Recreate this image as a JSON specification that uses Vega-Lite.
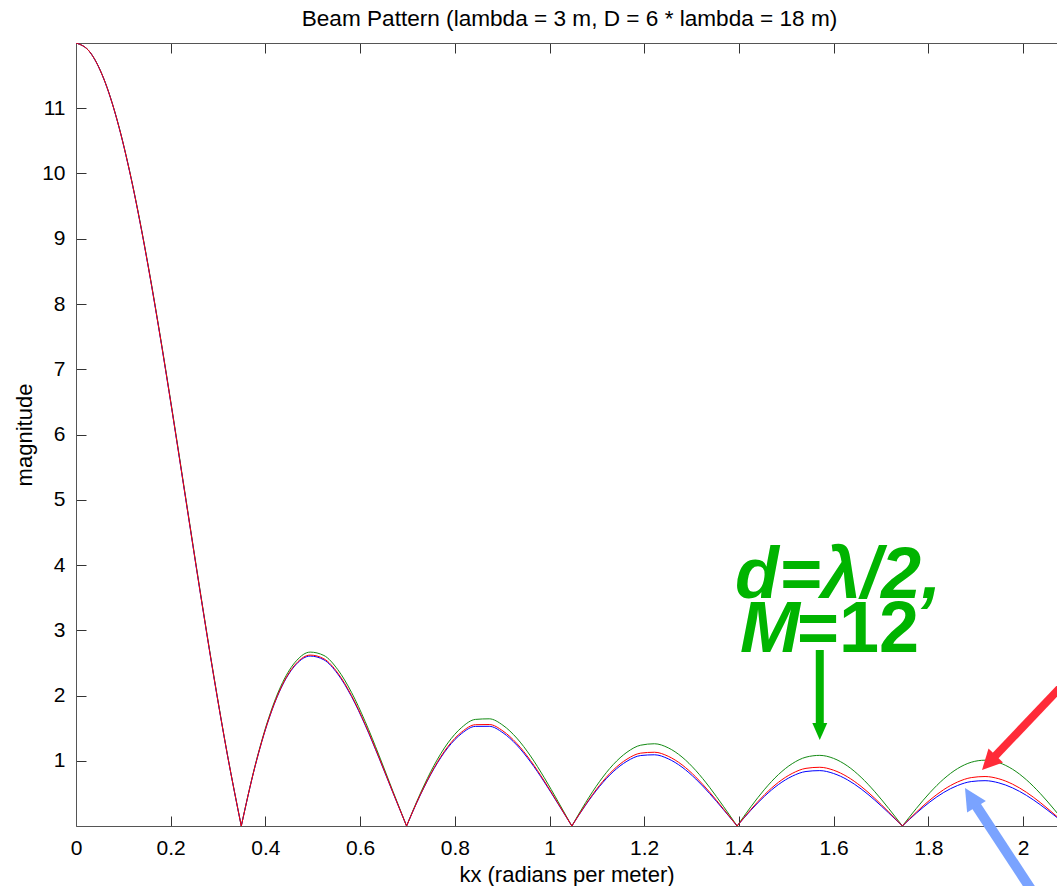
{
  "$schema": "https://vega.github.io/schema/vega-lite/v6.json",
  "width": 981,
  "height": 783,
  "autosize": {"type": "none"},
  "padding": {"left": 76, "top": 43, "right": 0, "bottom": 60},
  "background": "white",
  "config": {"view": {"stroke": null}, "font": "Liberation Sans", "axis": {"grid": false}},
  "title": {"text": "Beam Pattern (lambda = 3 m, D = 6 * lambda = 18 m)", "font": "Liberation Sans", "fontSize": 22.6, "fontWeight": "normal", "color": "#000", "anchor": "middle", "frame": "group", "baseline": "alphabetic", "offset": -6, "dx": 3},
  "resolve": {"axis": {"x": "independent", "y": "independent"}},
  "datasets": {
    "beam": [
      {"kx":0,"lobe":0,"g":12,"r":12,"b":12},
      {"kx":0.02909,"lobe":0,"g":11.8643,"r":11.8637,"b":11.8634},
      {"kx":0.05818,"lobe":0,"g":11.4628,"r":11.4601,"b":11.4592},
      {"kx":0.08727,"lobe":0,"g":10.8115,"r":10.8057,"b":10.8038},
      {"kx":0.11636,"lobe":0,"g":9.9365,"r":9.9271,"b":9.9239},
      {"kx":0.14544,"lobe":0,"g":8.8726,"r":8.8594,"b":8.855},
      {"kx":0.17453,"lobe":0,"g":7.6613,"r":7.6448,"b":7.6394},
      {"kx":0.20362,"lobe":0,"g":6.3497,"r":6.3311,"b":6.325},
      {"kx":0.23271,"lobe":0,"g":4.9873,"r":4.9683,"b":4.962},
      {"kx":0.2618,"lobe":0,"g":3.6245,"r":3.6071,"b":3.6013},
      {"kx":0.29089,"lobe":0,"g":2.3101,"r":2.2964,"b":2.2918},
      {"kx":0.31998,"lobe":0,"g":1.0889,"r":1.0811,"b":1.0785},
      {"kx":0.34907,"lobe":0,"g":0,"r":0,"b":0},
      {"kx":0.34907,"lobe":1,"g":0,"r":0,"b":0},
      {"kx":0.37815,"lobe":1,"g":0.92493,"r":0.91564,"b":0.91257},
      {"kx":0.40724,"lobe":1,"g":1.66275,"r":1.6434,"b":1.63702},
      {"kx":0.43633,"lobe":1,"g":2.19984,"r":2.17045,"b":2.16077},
      {"kx":0.46542,"lobe":1,"g":2.53209,"r":2.49363,"b":2.48098},
      {"kx":0.49451,"lobe":1,"g":2.66508,"r":2.61938,"b":2.6044},
      {"kx":0.5236,"lobe":1,"g":2.61312,"r":2.56293,"b":2.54648},
      {"kx":0.55269,"lobe":1,"g":2.39834,"r":2.34703,"b":2.33025},
      {"kx":0.58178,"lobe":1,"g":2.0492,"r":2.00063,"b":1.98479},
      {"kx":0.61087,"lobe":1,"g":1.59875,"r":1.55698,"b":1.5434},
      {"kx":0.63995,"lobe":1,"g":1.08284,"r":1.0518,"b":1.04174},
      {"kx":0.66904,"lobe":1,"g":0.5381,"r":0.52125,"b":0.5158},
      {"kx":0.69813,"lobe":1,"g":0,"r":0,"b":0},
      {"kx":0.69813,"lobe":2,"g":0,"r":0,"b":0},
      {"kx":0.72722,"lobe":2,"g":0.49891,"r":0.48047,"b":0.47454},
      {"kx":0.75631,"lobe":2,"g":0.93058,"r":0.8934,"b":0.88147},
      {"kx":0.7854,"lobe":2,"g":1.27277,"r":1.21797,"b":1.20043},
      {"kx":0.81449,"lobe":2,"g":1.50986,"r":1.43999,"b":1.4177},
      {"kx":0.84358,"lobe":2,"g":1.63354,"r":1.55249,"b":1.52672},
      {"kx":0.87266,"lobe":2,"g":1.64268,"r":1.5555,"b":1.52789},
      {"kx":0.90175,"lobe":2,"g":1.54321,"r":1.45581,"b":1.42822},
      {"kx":0.93084,"lobe":2,"g":1.3473,"r":1.26604,"b":1.24049},
      {"kx":0.95993,"lobe":2,"g":1.07244,"r":1.00371,"b":0.98217},
      {"kx":0.98902,"lobe":2,"g":0.7401,"r":0.68978,"b":0.67407},
      {"kx":1.01811,"lobe":2,"g":0.37428,"r":0.34733,"b":0.33895},
      {"kx":1.0472,"lobe":2,"g":0,"r":0,"b":0},
      {"kx":1.0472,"lobe":3,"g":0,"r":0,"b":0},
      {"kx":1.07629,"lobe":3,"g":0.35829,"r":0.3295,"b":0.32063},
      {"kx":1.10538,"lobe":3,"g":0.67817,"r":0.62073,"b":0.60311},
      {"kx":1.13446,"lobe":3,"g":0.9405,"r":0.85667,"b":0.83106},
      {"kx":1.16355,"lobe":3,"g":1.13051,"r":1.02459,"b":0.99239},
      {"kx":1.19264,"lobe":3,"g":1.23855,"r":1.11673,"b":1.07987},
      {"kx":1.22173,"lobe":3,"g":1.26048,"r":1.13049,"b":1.09135},
      {"kx":1.25082,"lobe":3,"g":1.19776,"r":1.0684,"b":1.02965},
      {"kx":1.27991,"lobe":3,"g":1.05723,"r":0.93777,"b":0.90218},
      {"kx":1.309,"lobe":3,"g":0.85044,"r":0.75002,"b":0.72026},
      {"kx":1.33809,"lobe":3,"g":0.59284,"r":0.51976,"b":0.49822},
      {"kx":1.36717,"lobe":3,"g":0.30274,"r":0.26382,"b":0.25241},
      {"kx":1.39626,"lobe":3,"g":0,"r":0,"b":0},
      {"kx":1.39626,"lobe":4,"g":0,"r":0,"b":0},
      {"kx":1.42535,"lobe":4,"g":0.29521,"r":0.25403,"b":0.24211},
      {"kx":1.45444,"lobe":4,"g":0.56369,"r":0.48191,"b":0.45837},
      {"kx":1.48353,"lobe":4,"g":0.78842,"r":0.66953,"b":0.63552},
      {"kx":1.51262,"lobe":4,"g":0.95555,"r":0.80591,"b":0.76338},
      {"kx":1.54171,"lobe":4,"g":1.05529,"r":0.88379,"b":0.83537},
      {"kx":1.5708,"lobe":4,"g":1.0824,"r":0.89998,"b":0.84883},
      {"kx":1.59989,"lobe":4,"g":1.0364,"r":0.8554,"b":0.805},
      {"kx":1.62897,"lobe":4,"g":0.9216,"r":0.75493,"b":0.70885},
      {"kx":1.65806,"lobe":4,"g":0.74674,"r":0.60698,"b":0.56862},
      {"kx":1.68715,"lobe":4,"g":0.52426,"r":0.42279,"b":0.39514},
      {"kx":1.71624,"lobe":4,"g":0.26958,"r":0.21565,"b":0.20107},
      {"kx":1.74533,"lobe":4,"g":0,"r":0,"b":0},
      {"kx":1.74533,"lobe":5,"g":0,"r":0,"b":0},
      {"kx":1.77442,"lobe":5,"g":0.26645,"r":0.20961,"b":0.19448},
      {"kx":1.80351,"lobe":5,"g":0.51214,"r":0.39941,"b":0.36965},
      {"kx":1.8326,"lobe":5,"g":0.72096,"r":0.55731,"b":0.51447},
      {"kx":1.86168,"lobe":5,"g":0.87939,"r":0.67365,"b":0.62025},
      {"kx":1.89077,"lobe":5,"g":0.9773,"r":0.74176,"b":0.68115},
      {"kx":1.91986,"lobe":5,"g":1.00862,"r":0.75832,"b":0.69449},
      {"kx":1.94895,"lobe":5,"g":0.9717,"r":0.72353,"b":0.66082},
      {"kx":1.97804,"lobe":5,"g":0.86934,"r":0.64094,"b":0.58376},
      {"kx":2.00713,"lobe":5,"g":0.70862,"r":0.5172,"b":0.46973},
      {"kx":2.03622,"lobe":5,"g":0.50047,"r":0.36152,"b":0.3274},
      {"kx":2.06531,"lobe":5,"g":0.25888,"r":0.18504,"b":0.16709},
      {"kx":2.0944,"lobe":5,"g":0,"r":0,"b":0}
    ],
    "arrows": [
      {"id":"green","x0":1.5708,"y0":2.697,"x1":1.5708,"y1":1.5,"tx":1.5708,"ty":1.318},
      {"id":"red","x0":2.1098,"y0":2.36,"x1":1.9352,"y1":1.0253,"tx":1.9134,"ty":0.8582},
      {"id":"blue","x0":2.0359,"y0":-1.18,"x1":1.8952,"y1":0.3739,"tx":1.8775,"ty":0.5824}
    ],
    "notes": [
      {"id":"l1","x":1.3918,"y":3.494,"t":"d=λ/2,"},
      {"id":"l2a","x":1.4023,"y":2.667,"t":"M"},
      {"id":"l2b","x":1.5227,"y":2.667,"t":"=12"}
    ]
  },
  "layer": [
    {
      "data": {"name": "beam"},
      "mark": {"type": "line", "color": "#138a13", "strokeWidth": 1, "interpolate": "monotone", "clip": true},
      "encoding": {
        "x": {"field": "kx", "type": "quantitative", "scale": {"domain": [0, 2.0718], "nice": false, "zero": false},
          "axis": {"orient": "bottom", "values": [0,0.2,0.4,0.6,0.8,1,1.2,1.4,1.6,1.8,2], "format": "~g", "tickSize": -10, "tickColor": "#333", "domainColor": "#555", "labelPadding": 21, "labelFontSize": 21, "labelColor": "#000", "labelFont": "Liberation Sans", "labelFlush": false, "labelOverlap": false, "title": "kx (radians per meter)", "titleFont": "Liberation Sans", "titleFontSize": 22, "titleFontWeight": "normal", "titleColor": "#000", "titleY": 55, "titleBaseline": "alphabetic"}},
        "y": {"field": "g", "type": "quantitative", "scale": {"domain": [0, 12], "nice": false, "zero": false},
          "axis": {"orient": "left", "values": [1,2,3,4,5,6,7,8,9,10,11], "tickSize": -10, "tickColor": "#333", "domainColor": "#555", "labelPadding": 21, "labelFontSize": 21, "labelColor": "#000", "labelFont": "Liberation Sans", "labelFlush": false, "labelOverlap": false, "title": "magnitude", "titleFont": "Liberation Sans", "titleFontSize": 22, "titleFontWeight": "normal", "titleColor": "#000", "titleX": -52, "titleBaseline": "middle"}},
        "detail": {"field": "lobe", "type": "nominal"}
      }
    },
    {
      "data": {"name": "beam"},
      "mark": {"type": "line", "color": "#0000ff", "strokeWidth": 1, "interpolate": "monotone", "clip": true},
      "encoding": {
        "x": {"field": "kx", "type": "quantitative", "scale": {"domain": [0, 2.0718], "nice": false, "zero": false},
          "axis": {"orient": "top", "values": [0,0.2,0.4,0.6,0.8,1,1.2,1.4,1.6,1.8,2], "tickSize": -10, "tickColor": "#333", "domainColor": "#555", "labels": false, "title": null}},
        "y": {"field": "b", "type": "quantitative", "scale": {"domain": [0, 12], "nice": false, "zero": false}, "axis": null},
        "detail": {"field": "lobe", "type": "nominal"}
      }
    },
    {
      "data": {"name": "beam"},
      "mark": {"type": "line", "color": "#ff0000", "strokeWidth": 1, "interpolate": "monotone", "clip": true},
      "encoding": {
        "x": {"field": "kx", "type": "quantitative", "scale": {"domain": [0, 2.0718], "nice": false, "zero": false}, "axis": null},
        "y": {"field": "r", "type": "quantitative", "scale": {"domain": [0, 12], "nice": false, "zero": false}, "axis": null},
        "detail": {"field": "lobe", "type": "nominal"}
      }
    },
    {
      "data": {"name": "arrows"},
      "transform": [{"filter": "datum.id === 'green'"}],
      "mark": {"type": "rule", "color": "#00b400", "strokeWidth": 8, "strokeCap": "butt"},
      "encoding": {
        "x": {"field": "x0", "type": "quantitative", "scale": {"domain": [0, 2.0718], "nice": false, "zero": false}, "axis": null},
        "y": {"field": "y0", "type": "quantitative", "scale": {"domain": [0, 12], "nice": false, "zero": false}, "axis": null},
        "x2": {"field": "x1"},
        "y2": {"field": "y1"}
      }
    },
    {
      "data": {"name": "arrows"},
      "transform": [{"filter": "datum.id === 'red'"}],
      "mark": {"type": "rule", "color": "#ff2b38", "strokeWidth": 8, "strokeCap": "butt"},
      "encoding": {
        "x": {"field": "x0", "type": "quantitative", "scale": {"domain": [0, 2.0718], "nice": false, "zero": false}, "axis": null},
        "y": {"field": "y0", "type": "quantitative", "scale": {"domain": [0, 12], "nice": false, "zero": false}, "axis": null},
        "x2": {"field": "x1"},
        "y2": {"field": "y1"}
      }
    },
    {
      "data": {"name": "arrows"},
      "transform": [{"filter": "datum.id === 'blue'"}],
      "mark": {"type": "rule", "color": "#7aa3ff", "strokeWidth": 10, "strokeCap": "butt"},
      "encoding": {
        "x": {"field": "x0", "type": "quantitative", "scale": {"domain": [0, 2.0718], "nice": false, "zero": false}, "axis": null},
        "y": {"field": "y0", "type": "quantitative", "scale": {"domain": [0, 12], "nice": false, "zero": false}, "axis": null},
        "x2": {"field": "x1"},
        "y2": {"field": "y1"}
      }
    },
    {
      "data": {"name": "arrows"},
      "transform": [{"filter": "datum.id === 'green'"}],
      "mark": {"type": "point", "shape": "M0,0L-0.44,-1L0.44,-1Z", "filled": true, "color": "#00b400", "opacity": 1, "size": 1156, "angle": 0},
      "encoding": {
        "x": {"field": "tx", "type": "quantitative", "scale": {"domain": [0, 2.0718], "nice": false, "zero": false}, "axis": null},
        "y": {"field": "ty", "type": "quantitative", "scale": {"domain": [0, 12], "nice": false, "zero": false}, "axis": null}
      }
    },
    {
      "data": {"name": "arrows"},
      "transform": [{"filter": "datum.id === 'red'"}],
      "mark": {"type": "point", "shape": "M0,0L-0.5,-1L0.5,-1Z", "filled": true, "color": "#ff2b38", "opacity": 1, "size": 1600, "angle": 43.5},
      "encoding": {
        "x": {"field": "tx", "type": "quantitative", "scale": {"domain": [0, 2.0718], "nice": false, "zero": false}, "axis": null},
        "y": {"field": "ty", "type": "quantitative", "scale": {"domain": [0, 12], "nice": false, "zero": false}, "axis": null}
      }
    },
    {
      "data": {"name": "arrows"},
      "transform": [{"filter": "datum.id === 'blue'"}],
      "mark": {"type": "point", "shape": "M0,0L-0.5,-1L0.5,-1Z", "filled": true, "color": "#7aa3ff", "opacity": 1, "size": 1936, "angle": 148.5},
      "encoding": {
        "x": {"field": "tx", "type": "quantitative", "scale": {"domain": [0, 2.0718], "nice": false, "zero": false}, "axis": null},
        "y": {"field": "ty", "type": "quantitative", "scale": {"domain": [0, 12], "nice": false, "zero": false}, "axis": null}
      }
    },
    {
      "data": {"name": "notes"},
      "transform": [{"filter": "datum.id === 'l1'"}],
      "mark": {"type": "text", "font": "Liberation Sans", "fontSize": 72, "fontWeight": "bold", "fontStyle": "italic", "color": "#00b400", "align": "left", "baseline": "alphabetic"},
      "encoding": {
        "x": {"field": "x", "type": "quantitative", "scale": {"domain": [0, 2.0718], "nice": false, "zero": false}, "axis": null},
        "y": {"field": "y", "type": "quantitative", "scale": {"domain": [0, 12], "nice": false, "zero": false}, "axis": null},
        "text": {"field": "t"}
      }
    },
    {
      "data": {"name": "notes"},
      "transform": [{"filter": "datum.id === 'l2a'"}],
      "mark": {"type": "text", "font": "Liberation Sans", "fontSize": 72, "fontWeight": "bold", "fontStyle": "italic", "color": "#00b400", "align": "left", "baseline": "alphabetic"},
      "encoding": {
        "x": {"field": "x", "type": "quantitative", "scale": {"domain": [0, 2.0718], "nice": false, "zero": false}, "axis": null},
        "y": {"field": "y", "type": "quantitative", "scale": {"domain": [0, 12], "nice": false, "zero": false}, "axis": null},
        "text": {"field": "t"}
      }
    },
    {
      "data": {"name": "notes"},
      "transform": [{"filter": "datum.id === 'l2b'"}],
      "mark": {"type": "text", "font": "Liberation Sans", "fontSize": 72, "fontWeight": "bold", "color": "#00b400", "align": "left", "baseline": "alphabetic"},
      "encoding": {
        "x": {"field": "x", "type": "quantitative", "scale": {"domain": [0, 2.0718], "nice": false, "zero": false}, "axis": null},
        "y": {"field": "y", "type": "quantitative", "scale": {"domain": [0, 12], "nice": false, "zero": false}, "axis": null},
        "text": {"field": "t"}
      }
    }
  ]
}
